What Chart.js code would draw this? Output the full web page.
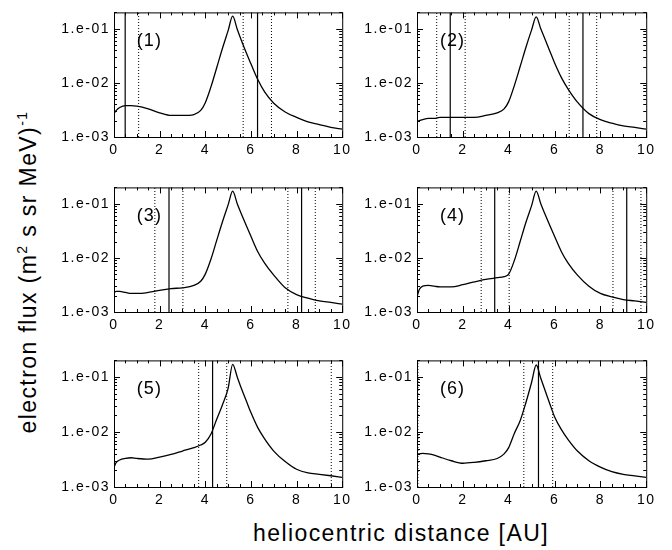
<!DOCTYPE html>
<html>
<head>
<meta charset="utf-8">
<script src="https://cdn.jsdelivr.net/npm/chart.js@4.4.1/dist/chart.umd.min.js"></script>
<style>
  body { margin: 0; background: #fff; }
  #wrap { position: relative; width: 672px; height: 550px; overflow: hidden; background: #fff; }
  #wrap canvas { position: absolute; }
  .title { position: absolute; font-family: "Liberation Sans", sans-serif; font-size: 23px; line-height: 23px;
           letter-spacing: 1.4px; color: #000; white-space: nowrap; }
  #xtitle { left: 401px; top: 522px; transform: translateX(-50%); }
  #ytitle { left: 28px; top: 272px; transform: translate(-50%, -50%) rotate(-90deg); }
  .title sup { font-size: 14px; vertical-align: 9px; line-height: 0; }
</style>
</head>
<body>
<div id="wrap">
  <div class="title" id="ytitle">electron flux (m<sup>2</sup> s sr MeV)<sup>-1</sup></div>
  <div class="title" id="xtitle">heliocentric distance [AU]</div>
</div>
<script>
// heliocentric distance grid (AU)
const dist = [0, 0.1, 0.25, 0.5, 0.75, 1, 1.5, 2, 2.5, 3, 3.5, 3.8, 4, 4.25, 4.5, 4.75, 5, 5.2, 5.4, 5.6, 5.8, 6, 6.3, 6.6, 7, 7.5, 8, 8.5, 9, 9.5, 10];

// electron flux, one list per panel
const flux1 = [0.0027, 0.0031, 0.0035, 0.0038, 0.0038, 0.0037, 0.0033, 0.0028, 0.0025, 0.0025, 0.0026, 0.0031, 0.0043, 0.0085, 0.019, 0.043, 0.092, 0.17, 0.098, 0.058, 0.0355, 0.0225, 0.0115, 0.0068, 0.0042, 0.0029, 0.0023, 0.0019, 0.0017, 0.0015, 0.0014];
const flux2 = [0.0019, 0.0020, 0.0021, 0.0022, 0.0022, 0.0023, 0.0023, 0.0023, 0.0023, 0.0025, 0.0028, 0.0033, 0.0045, 0.009, 0.020, 0.045, 0.095, 0.165, 0.10, 0.062, 0.038, 0.0235, 0.0125, 0.0076, 0.0044, 0.0027, 0.0021, 0.0018, 0.0016, 0.0015, 0.0014];
const flux3 = [0.0023, 0.0024, 0.0024, 0.0023, 0.0022, 0.0022, 0.0023, 0.0025, 0.0027, 0.0028, 0.0031, 0.0037, 0.0050, 0.0095, 0.021, 0.046, 0.095, 0.17, 0.10, 0.062, 0.039, 0.025, 0.013, 0.0080, 0.0048, 0.0028, 0.0021, 0.0018, 0.0016, 0.0015, 0.0014];
const flux4 = [0.0019, 0.0026, 0.0030, 0.0031, 0.0030, 0.0029, 0.0029, 0.0032, 0.0036, 0.0040, 0.0043, 0.0045, 0.0050, 0.009, 0.020, 0.045, 0.092, 0.17, 0.10, 0.062, 0.039, 0.025, 0.013, 0.0079, 0.0048, 0.0030, 0.0022, 0.0019, 0.0017, 0.0016, 0.0015];
const flux5 = [0.0023, 0.0028, 0.0031, 0.0033, 0.0034, 0.0033, 0.0032, 0.0035, 0.0039, 0.0045, 0.0052, 0.0058, 0.0065, 0.0092, 0.017, 0.031, 0.062, 0.17, 0.10, 0.059, 0.0365, 0.0225, 0.012, 0.0075, 0.0045, 0.0029, 0.0021, 0.0018, 0.0017, 0.0016, 0.0015];
const flux6 = [0.0038, 0.0040, 0.0041, 0.0040, 0.0038, 0.0035, 0.0030, 0.0027, 0.0028, 0.0030, 0.0033, 0.0040, 0.0052, 0.0095, 0.016, 0.034, 0.080, 0.165, 0.095, 0.055, 0.032, 0.019, 0.011, 0.0072, 0.0045, 0.0030, 0.0023, 0.0019, 0.0017, 0.0016, 0.0015];

// vertical markers (AU): solid and dotted
const solid1 = [0.49, 6.29], dotted1 = [1.08, 5.66, 6.9];
const solid2 = [1.45, 7.24], dotted2 = [0.86, 2.1, 6.64, 7.84];
const solid3 = [2.41, 8.22], dotted3 = [1.79, 3.02, 7.62, 8.82];
const solid4 = [3.39, 9.15], dotted4 = [2.8, 4.02, 8.55, 9.77];
const solid5 = [4.32], dotted5 = [3.71, 4.94, 9.52];
const solid6 = [5.3], dotted6 = [0.04, 4.66, 5.92];

const xTicks = [0, 2, 4, 6, 8, 10];
const yTicks = [1e-3, 1e-2, 1e-1];
const yMin = 1e-3, yMax = 0.2;

const panels = [
  { flux: flux1, solid: solid1, dotted: dotted1 },
  { flux: flux2, solid: solid2, dotted: dotted2 },
  { flux: flux3, solid: solid3, dotted: dotted3 },
  { flux: flux4, solid: solid4, dotted: dotted4 },
  { flux: flux5, solid: solid5, dotted: dotted5 },
  { flux: flux6, solid: solid6, dotted: dotted6 }
];

// plot-area boxes on the page
const colLeft = [114, 417], colRight = [345, 649];
const rowTop = [9, 184, 357], rowBottom = [137, 312, 487];
const AXW = 64, AXH = 28, PADT = 9, PADR = 10;

function fmt(v) {
  const e = Math.round(Math.log10(v));
  return '1.e' + (e < 0 ? '-' : '+') + String(Math.abs(e)).padStart(2, '0');
}

const frame = {
  id: 'frame',
  beforeDraw(chart) {
    chart.ctx.letterSpacing = '1.5px';
  },
  afterDatasetsDraw(chart) {
    const { ctx, chartArea: a, scales: { x, y } } = chart;
    ctx.save();
    ctx.strokeStyle = '#000';
    ctx.lineWidth = 1;
    ctx.strokeRect(a.left + 0.5, a.top + 0.5, a.right - a.left, a.bottom - a.top);
    ctx.beginPath();
    for (let v = 0; v <= 10.001; v += 0.5) {
      const px = Math.round(x.getPixelForValue(v)) + 0.5;
      const len = (Math.abs(v / 2 - Math.round(v / 2)) < 1e-6) ? 6 : 3;
      ctx.moveTo(px, a.bottom); ctx.lineTo(px, a.bottom - len);
      ctx.moveTo(px, a.top); ctx.lineTo(px, a.top + len);
    }
    for (let d = 1e-3; d < 1; d *= 10) {
      for (let m = 1; m <= 9; m++) {
        const v = d * m;
        if (v > yMax * 1.0001) break;
        const py = Math.round(y.getPixelForValue(v)) + 0.5;
        const len = m === 1 ? 6 : 3;
        ctx.moveTo(a.left, py); ctx.lineTo(a.left + len, py);
        ctx.moveTo(a.right, py); ctx.lineTo(a.right - len, py);
      }
    }
    ctx.stroke();
    ctx.fillStyle = '#000';
    ctx.letterSpacing = '1px';
    ctx.font = '18px "Liberation Sans", sans-serif';
    ctx.textAlign = 'center';
    ctx.textBaseline = 'middle';
    ctx.fillText('(' + (chart.options.panelNo) + ')', x.getPixelForValue(1.55), y.getPixelForValue(0.06));
    ctx.restore();
  }
};

const wrap = document.getElementById('wrap');

panels.forEach((p, i) => {
  const col = i % 2, row = Math.floor(i / 2);
  const plotW = colRight[col] - colLeft[col];
  const plotH = rowBottom[row] - rowTop[row];
  const canvas = document.createElement('canvas');
  canvas.width = AXW + plotW + PADR;
  canvas.height = PADT + plotH + AXH;
  canvas.style.left = (colLeft[col] - AXW) + 'px';
  canvas.style.top = (rowTop[row] - PADT) + 'px';
  wrap.appendChild(canvas);

  const datasets = [{
    data: dist.map((d, k) => ({ x: d, y: p.flux[k] })),
    borderColor: '#000',
    borderWidth: 1.3,
    pointRadius: 0,
    cubicInterpolationMode: 'monotone',
    fill: false
  }];
  p.solid.forEach(v => datasets.push({
    data: [{ x: v, y: yMin }, { x: v, y: yMax }],
    borderColor: '#000', borderWidth: 1.2, pointRadius: 0
  }));
  p.dotted.forEach(v => datasets.push({
    data: [{ x: v, y: yMin }, { x: v, y: yMax }],
    borderColor: '#000', borderWidth: 1, borderDash: [1, 2], pointRadius: 0
  }));

  new Chart(canvas, {
    type: 'line',
    data: { datasets },
    options: {
      panelNo: i + 1,
      responsive: false,
      animation: false,
      devicePixelRatio: 1,
      events: [],
      layout: { padding: { top: PADT, right: PADR, left: 0, bottom: 0 } },
      plugins: { legend: { display: false }, tooltip: { enabled: false } },
      scales: {
        x: {
          type: 'linear', min: 0, max: 10,
          grid: { display: false, drawTicks: false },
          border: { display: false },
          afterBuildTicks: s => { s.ticks = xTicks.map(v => ({ value: v })); },
          afterFit: s => { s.height = AXH; },
          ticks: { padding: 5, color: '#000', maxRotation: 0, autoSkip: false,
                   font: { family: '"Liberation Sans", sans-serif', size: 14 } }
        },
        y: {
          type: 'logarithmic', min: yMin, max: yMax,
          grid: { display: false, drawTicks: false },
          border: { display: false },
          afterBuildTicks: s => { s.ticks = yTicks.map(v => ({ value: v })); },
          afterFit: s => { s.width = AXW; },
          ticks: { padding: 4, color: '#000', autoSkip: false, callback: v => fmt(v),
                   font: { family: '"Liberation Sans", sans-serif', size: 14 } }
        }
      }
    },
    plugins: [frame]
  });
});
</script>
</body>
</html>
